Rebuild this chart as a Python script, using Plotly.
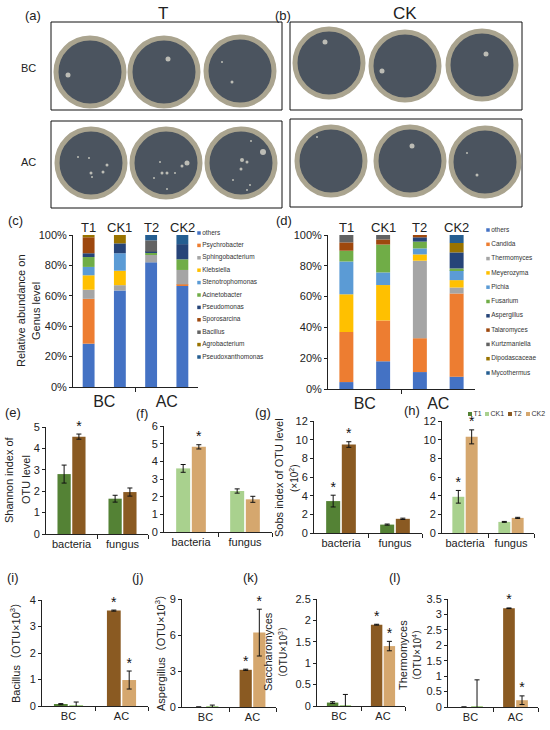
import numpy as np
import plotly.graph_objects as go

W, H = 550, 730
FONT = "Arial, Liberation Sans, Noto Sans CJK SC, sans-serif"

# ---------------- data ----------------
groups = ["T1", "CK1", "T2", "CK2"]
stages = ["BC", "AC"]
kinds = ["bacteria", "fungus"]

# genus level relative abundance (%), stacked bottom -> top
bact_genus = ["others", "Psychrobacter", "Sphingobacterium", "Klebsiella", "Stenotrophomonas",
              "Acinetobacter", "Pseudomonas", "Sporosarcina", "Bacillus", "Agrobacterium",
              "Pseudoxanthomonas"]
bact_T1 = [28.5, 29.5, 6.0, 9.5, 5.5, 6.5, 2.5, 10.5, 0.0, 1.5, 0.0]
bact_CK1 = [63.5, 0.0, 3.5, 9.5, 11.5, 0.0, 6.5, 0.0, 0.0, 5.5, 0.0]
bact_T2 = [82.0, 0.0, 5.0, 0.0, 0.0, 1.2, 0.8, 0.0, 7.5, 0.0, 3.5]
bact_CK2 = [66.5, 1.0, 9.5, 0.0, 0.0, 7.0, 10.0, 0.0, 0.0, 0.0, 6.0]

fung_genus = ["others", "Candida", "Thermomyces", "Meyerozyma", "Pichia", "Fusarium",
              "Aspergillus", "Talaromyces", "Kurtzmaniella", "Dipodascaceae", "Mycothermus"]
fung_T1 = [4.5, 32.5, 0.0, 24.5, 21.3, 7.0, 0.0, 5.4, 4.8, 0.0, 0.0]
fung_CK1 = [18.0, 26.5, 0.0, 23.0, 8.2, 18.1, 0.0, 3.3, 2.9, 0.0, 0.0]
fung_T2 = [11.0, 22.0, 50.3, 4.1, 3.9, 4.4, 2.8, 1.5, 0.0, 0.0, 0.0]
fung_CK2 = [8.0, 54.0, 3.9, 4.8, 6.5, 1.1, 10.4, 0.0, 0.0, 6.1, 5.2]

genus_colors = ["#4472C4", "#ED7D31", "#A5A5A5", "#FFC000", "#5B9BD5", "#70AD47",
                "#264478", "#9E480E", "#636363", "#997300", "#255E91"]

# alpha diversity (bacteria, fungus)
shannon_T1, shannon_T1_err = [2.80, 1.65], [0.42, 0.16]
shannon_T2, shannon_T2_err = [4.55, 1.96], [0.12, 0.19]
shannon_CK1, shannon_CK1_err = [3.60, 2.32], [0.22, 0.12]
shannon_CK2, shannon_CK2_err = [4.82, 1.85], [0.12, 0.17]
sobs_T1, sobs_T1_err = [3.42, 0.90], [0.63, 0.06]
sobs_T2, sobs_T2_err = [9.48, 1.52], [0.30, 0.07]
sobs_CK1, sobs_CK1_err = [3.88, 1.19], [0.68, 0.05]
sobs_CK2, sobs_CK2_err = [10.30, 1.62], [0.75, 0.06]

# OTU counts of key genera (BC, AC)
bacillus_T, bacillus_T_err = [0.07, 3.60], [0.02, 0.02]
bacillus_CK, bacillus_CK_err = [0.01, 0.98], [0.14, 0.34]
asper_T, asper_T_err = [0.0, 3.10], [0.0, 0.05]
asper_CK, asper_CK_err = [0.01, 6.20], [0.15, 1.95]
sacch_T, sacch_T_err = [0.08, 1.90], [0.02, 0.01]
sacch_CK, sacch_CK_err = [0.01, 1.40], [0.26, 0.11]
thermo_T, thermo_T_err = [0.0, 3.20], [0.0, 0.01]
thermo_CK, thermo_CK_err = [0.01, 0.22], [0.87, 0.14]

C_T1, C_CK1, C_T2, C_CK2 = "#548235", "#A9D18E", "#8A5A22", "#D5A76E"

# plate photos: plate centres and colonies (page pixels)
plate_x = [90, 164, 240, 91, 166, 241, 329, 405, 482, 331, 410, 485]
plate_y = [72, 72, 71, 163, 163, 163, 63, 66, 65, 161, 161, 162]
colony_x = [68, 168, 222, 232, 78, 89, 107, 103, 91, 92, 160, 182, 187, 167, 162, 175, 154, 167,
            251, 263, 242, 247, 241, 250, 247, 233, 325, 382, 486, 317, 412, 467, 477]
colony_y = [75, 59, 62, 82, 157, 158, 165, 172, 173, 177, 162, 166, 163, 173, 173, 173, 178, 189,
            141, 152, 160, 162, 169, 185, 190, 180, 42, 71, 54, 137, 146, 153, 175]
colony_s = [5, 5, 2, 3, 2, 2, 3, 3, 3, 2, 2, 3, 5, 3, 3, 2, 2, 2,
            2, 6, 4, 3, 3, 2, 2, 2, 5, 5, 5, 2, 5, 2, 3]


def dom_x(a, b):
    return [a / W, b / W]


def dom_y(top, bot):
    return [1 - bot / H, 1 - top / H]


fig = go.Figure()
layout = dict(
    width=W, height=H, margin=dict(l=0, r=0, t=0, b=0),
    paper_bgcolor="white", plot_bgcolor="rgba(0,0,0,0)",
    font=dict(family=FONT, size=11, color="#222"),
    showlegend=False, barmode="overlay", template="none",
    xaxis=dict(domain=[0, 1], range=[0, W], visible=False, fixedrange=True),
    yaxis=dict(domain=[0, 1], range=[H, 0], visible=False, fixedrange=True),
)
annotations = []
shapes = []


def note(x, y, text, size=11, angle=0, xanchor="center", xref="x", yref="y"):
    annotations.append(dict(x=x, y=y, xref=xref, yref=yref, text=text, showarrow=False,
                            textangle=angle, xanchor=xanchor, yanchor="middle",
                            font=dict(size=size, family=FONT, color="#222")))


def axes(n, xd, yd, xrange, yrange, dtick, tickvals, ticktext, minor_vals,
         xfont=11, yfont=11, suffix=""):
    layout[f"xaxis{n}"] = dict(domain=dom_x(*xd), range=xrange, anchor=f"y{n}",
                               showline=True, linecolor="#222", linewidth=1,
                               tickmode="array", tickvals=tickvals, ticktext=ticktext,
                               ticks="", tickfont=dict(size=xfont), showgrid=False,
                               zeroline=False, fixedrange=True,
                               minor=dict(tickmode="array", tickvals=minor_vals, ticks="outside",
                                          ticklen=4, tickcolor="#222", showgrid=False))
    layout[f"yaxis{n}"] = dict(domain=dom_y(*yd), range=yrange, anchor=f"x{n}",
                               showline=True, linecolor="#222", linewidth=1,
                               ticks="outside", ticklen=3, tickcolor="#222",
                               tick0=0, dtick=dtick, ticksuffix=suffix,
                               tickfont=dict(size=yfont), showgrid=False,
                               zeroline=False, fixedrange=True)


# ---------------- photos (a), (b) ----------------
for x0, y0, x1, y1 in [(51, 22, 282, 110), (51, 121, 282, 208),
                       (290, 22, 522, 110), (290, 119, 522, 207)]:
    shapes.append(dict(type="rect", xref="x", yref="y", x0=x0, y0=y0, x1=x1, y1=y1,
                       line=dict(color="#111", width=1), fillcolor="white", layer="below"))

fig.add_trace(go.Scatter(x=plate_x, y=plate_y, mode="markers", xaxis="x", yaxis="y",
                         marker=dict(size=68, color="#4b545f",
                                     line=dict(color="#aaa48f", width=5)),
                         hoverinfo="skip"))
fig.add_trace(go.Scatter(x=colony_x, y=colony_y, mode="markers", xaxis="x", yaxis="y",
                         marker=dict(size=colony_s, color="#ece8da", line=dict(width=0)),
                         hoverinfo="skip"))
note(33, 15, "(a)", 13)
note(163, 13, "T", 17)
note(283, 15, "(b)", 13)
note(405, 13, "CK", 17)
note(28, 68, "BC", 11)
note(28, 162, "AC", 11)

# ---------------- stacked bars (c), (d) ----------------
def stacked(n, genus, cols, xd, yd, leg_x, leg_y0, leg_dy, label_pos):
    vals = np.array(cols).T  # genus x group
    bases = np.vstack([np.zeros(len(groups)), np.cumsum(vals, axis=0)[:-1]])
    xs = np.arange(len(groups))
    for i, g in enumerate(genus):
        fig.add_trace(go.Bar(x=xs, y=vals[i], base=bases[i], width=0.38, name=g,
                             marker=dict(color=genus_colors[i], line=dict(width=0)),
                             xaxis=f"x{n}", yaxis=f"y{n}"))
    axes(n, xd, yd, [-0.5, len(groups) - 0.5], [0, 100], 20,
         [0.5, 2.5], stages, [1.5], xfont=16, yfont=11, suffix="%")
    for k, g in enumerate(groups):
        annotations.append(dict(x=k, y=yd[0] - 8, xref=f"x{n}", yref="y", text=g,
                                showarrow=False, font=dict(size=13, family=FONT, color="#222")))
    ly = [leg_y0 + i * leg_dy for i in range(len(genus))]
    fig.add_trace(go.Scatter(x=[leg_x] * len(genus), y=ly, mode="markers+text",
                             text=genus, textposition="middle right",
                             textfont=dict(size=6.5, color="#333"),
                             marker=dict(symbol="square", size=3.5, color=genus_colors),
                             xaxis="x", yaxis="y", hoverinfo="skip"))
    note(label_pos[0], label_pos[1], label_pos[2], 13)


stacked(2, bact_genus, [bact_T1, bact_CK1, bact_T2, bact_CK2], (73, 198), (235, 387),
        199, 233, 12.4, (15, 220, "(c)"))
stacked(3, fung_genus, [fung_T1, fung_CK1, fung_T2, fung_CK2], (328, 475), (235, 389),
        488, 230, 14.3, (284, 220, "(d)"))
note(21, 311, "Relative abundance on", 11, -90)
note(36, 311, "Genus level", 11, -90)

# ---------------- grouped bars ----------------
def grouped(n, cats, a, a_err, b, b_err, col_a, col_b, stars_a, stars_b,
            xd, yd, yrange, dtick):
    xs = np.arange(len(cats))
    off, wid = 0.145, 0.26
    for vals, errs, cols, sgn, stars in [(a, a_err, col_a, -1, stars_a),
                                         (b, b_err, col_b, 1, stars_b)]:
        fig.add_trace(go.Bar(x=xs + sgn * off, y=vals, width=wid,
                             marker=dict(color=cols, line=dict(width=0)),
                             error_y=dict(type="data", array=errs, color="#111",
                                          thickness=1, width=2.5),
                             xaxis=f"x{n}", yaxis=f"y{n}"))
        keep = np.array(stars, dtype=bool)
        if keep.any():
            tops = (np.array(vals) + np.array(errs))[keep]
            fig.add_trace(go.Scatter(x=(xs + sgn * off)[keep], y=tops, mode="text",
                                     text=["*"] * int(keep.sum()),
                                     textposition="top center", cliponaxis=False,
                                     textfont=dict(size=14, color="#111"),
                                     xaxis=f"x{n}", yaxis=f"y{n}", hoverinfo="skip"))
    axes(n, xd, yd, [-0.5, len(cats) - 0.5], yrange, dtick, list(xs), cats, [0.5, 1.5])


grouped(4, kinds, shannon_T1, shannon_T1_err, shannon_T2, shannon_T2_err, C_T1, C_T2,
        [0, 0], [1, 0], (46, 148), (427, 534), [0, 5], 1)
grouped(5, kinds, shannon_CK1, shannon_CK1_err, shannon_CK2, shannon_CK2_err, C_CK1, C_CK2,
        [0, 0], [1, 0], (164, 272), (426, 532), [0, 6], 1)
grouped(6, kinds, sobs_T1, sobs_T1_err, sobs_T2, sobs_T2_err, C_T1, C_T2,
        [1, 0], [1, 0], (314, 422), (421, 533), [0, 12], 2)
grouped(7, kinds, sobs_CK1, sobs_CK1_err, sobs_CK2, sobs_CK2_err, C_CK1, C_CK2,
        [1, 0], [1, 0], (442, 534), (421, 533), [0, 12], 2)

grouped(8, stages, bacillus_T, bacillus_T_err, bacillus_CK, bacillus_CK_err,
        [C_T1, C_T2], [C_CK1, C_CK2], [0, 1], [0, 1], (42, 148), (600, 706), [0, 4], 1)
grouped(9, stages, asper_T, asper_T_err, asper_CK, asper_CK_err,
        [C_T1, C_T2], [C_CK1, C_CK2], [0, 1], [0, 1], (182, 276), (599, 707), [0, 9], 3)
grouped(10, stages, sacch_T, sacch_T_err, sacch_CK, sacch_CK_err,
        [C_T1, C_T2], [C_CK1, C_CK2], [0, 1], [0, 1], (317, 405), (599, 706), [0, 2.5], 0.5)
grouped(11, stages, thermo_T, thermo_T_err, thermo_CK, thermo_CK_err,
        [C_T1, C_T2], [C_CK1, C_CK2], [0, 1], [0, 1], (448, 538), (599, 707), [0, 3.5], 0.5)

# legend of (h)
fig.add_trace(go.Scatter(x=[470, 487, 510, 528], y=[414] * 4, mode="markers+text",
                         text=groups, textposition="middle right",
                         textfont=dict(size=7, color="#333"),
                         marker=dict(symbol="square", size=4, color=[C_T1, C_CK1, C_T2, C_CK2]),
                         xaxis="x", yaxis="y", hoverinfo="skip"))

# panel letters and axis titles
for x, y, t in [(13, 412, "(e)"), (142, 413, "(f)"), (263, 412, "(g)"), (412, 410, "(h)"),
                (13, 577, "(i)"), (138, 577, "(j)"), (250, 577, "(k)"), (395, 577, "(l)")]:
    note(x, y, t, 13)
note(9, 480, "Shannon index of", 11, -90)
note(26, 480, "OTU level", 11, -90)
note(279, 478, "Sobs index of OTU level", 11, -90)
note(294, 478, "(×10<sup>2</sup>)", 10, -90)
note(15, 650, "Bacillus（OTU×10<sup>3</sup>）", 11, -90)
note(160, 650, "Aspergillus（OTU×10<sup>3</sup>）", 11, -90)
note(268, 652, "Saccharomyces", 11, -90)
note(283, 652, "（OTU×10<sup>3</sup>）", 10, -90)
note(403, 655, "Thermomyces", 11, -90)
note(417, 655, "（OTU×10<sup>4</sup>）", 10, -90)

layout["annotations"] = annotations
layout["shapes"] = shapes
fig.update_layout(**layout)
fig.write_html("out.html", config={"displayModeBar": False},
               post_script="document.body.style.margin='0px';")
